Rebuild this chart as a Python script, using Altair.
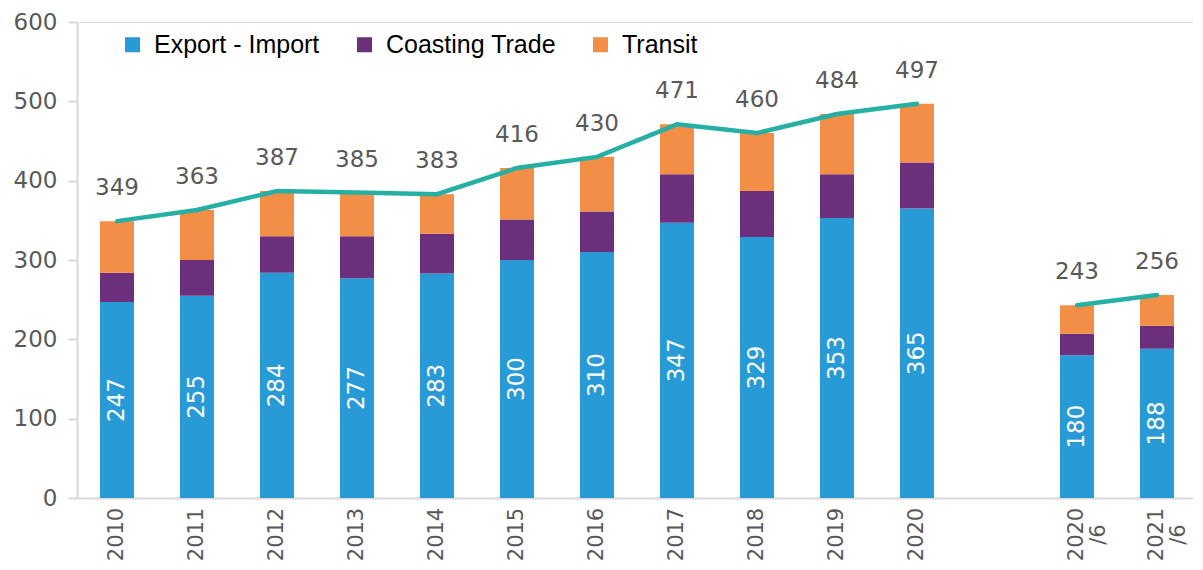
import altair as alt
import pandas as pd

categories = ["2010", "2011", "2012", "2013", "2014", "2015", "2016",
              "2017", "2018", "2019", "2020", "2020/6", "2021/6"]
export_import = [247, 255, 284, 277, 283, 300, 310, 347, 329, 353, 365, 180, 188]
coasting = [37, 45, 46, 53, 50, 51, 51, 61, 58, 55, 58, 27, 29]
transit = [65, 63, 57, 55, 50, 65, 69, 63, 73, 76, 74, 36, 39]
totals = [349, 363, 387, 385, 383, 416, 430, 471, 460, 484, 497, 243, 256]
segments = ["full"] * 11 + ["half"] * 2
x_domain = categories[:11] + [" "] + categories[11:]

series = ["Export - Import", "Coasting Trade", "Transit"]
colors = ["#289BD7", "#6C2F7B", "#F28E46"]
line_color = "#26B0A4"
num_font = "DejaVu Sans"
gray = "#595959"

rows = []
for i, c in enumerate(categories):
    for k, (s, vals) in enumerate(zip(series, [export_import, coasting, transit])):
        rows.append({"cat": c, "series": s, "value": vals[i], "ord": k})
long_df = pd.DataFrame(rows)
wide_df = pd.DataFrame({"cat": categories, "blue": export_import,
                        "total": totals, "seg": segments})

xscale = alt.Scale(domain=x_domain, range=[0, 1120], paddingInner=0, paddingOuter=0)
yscale = alt.Scale(domain=[0, 600], nice=False)

xaxis = alt.Axis(title=None, ticks=False, tickSize=0, labelAngle=270, labelAlign="center",
                 labelBaseline="middle", labelPadding=36, domainColor="#D9D9D9", domainWidth=2,
                 labelFont=num_font, labelFontSize=21, labelColor=gray, labelOverlap=False,
                 labelLineHeight=22, labelBound=False, labelFlush=False,
                 labelExpr="indexof(datum.value, '/') > 0 ? [split(datum.value, '/')[0], '/' + split(datum.value, '/')[1]] : datum.value")
yaxis = alt.Axis(title=None, values=[0, 100, 200, 300, 400, 500, 600], grid=False, tickSize=9,
                 tickColor="#D9D9D9", tickWidth=2, domainColor="#D9D9D9", domainWidth=2,
                 labelPadding=11, labelFont=num_font, labelFontSize=23, labelColor=gray)

bars = alt.Chart(long_df).mark_bar(size=34).encode(
    x=alt.X("cat:N", scale=xscale, axis=xaxis, sort=x_domain),
    y=alt.Y("value:Q", stack="zero", scale=yscale, axis=yaxis),
    color=alt.Color("series:N", scale=alt.Scale(domain=series, range=colors),
                    legend=alt.Legend(title=None, orient="none", legendX=43, legendY=10,
                                      direction="horizontal", symbolType="square",
                                      symbolSize=225, symbolStrokeWidth=0, symbolOpacity=1,
                                      labelFont="Liberation Sans", labelFontSize=25,
                                      labelColor="#000000", labelOffset=9, labelLimit=0,
                                      columnPadding=32, padding=0)),
    order=alt.Order("ord:Q", sort="ascending"),
)

line = alt.Chart(wide_df).mark_line(color=line_color, strokeWidth=4.5, strokeCap="round").encode(
    x=alt.X("cat:N", scale=xscale, sort=x_domain),
    y=alt.Y("total:Q", scale=yscale),
    detail="seg:N",
)

total_text = alt.Chart(wide_df).mark_text(dy=-26, font=num_font, fontSize=23, color=gray,
                                          baseline="alphabetic").encode(
    x=alt.X("cat:N", scale=xscale, sort=x_domain),
    y=alt.Y("total:Q", scale=yscale),
    text="total:Q",
)

inner_text = alt.Chart(wide_df).transform_calculate(mid="datum.blue / 2").mark_text(
    angle=270, font=num_font, fontSize=23, color="#FFFFFF", align="center", baseline="middle"
).encode(
    x=alt.X("cat:N", scale=xscale, sort=x_domain),
    y=alt.Y("mid:Q", scale=yscale),
    text="blue:Q",
)

chart = alt.layer(bars, line, total_text, inner_text).properties(
    width=1116, height=476,
    padding={"left": 69, "top": 14, "right": 0, "bottom": 63},
    autosize=alt.AutoSizeParams(type="none"),
).configure_view(stroke=None).configure(background="#FFFFFF")

chart.save("out.html", embed_options={"renderer": "svg", "actions": False})
